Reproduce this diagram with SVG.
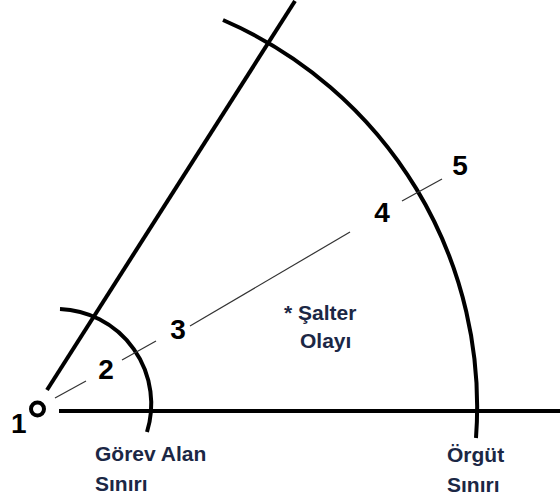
<svg xmlns="http://www.w3.org/2000/svg" width="560" height="502" viewBox="0 0 560 502">
<style>
.thick{fill:none;stroke:#000;stroke-width:4;stroke-linecap:butt}
.thin{fill:none;stroke:#333;stroke-width:1.2}
.num{font-family:"Liberation Sans",Arial,sans-serif;font-weight:bold;font-size:28px;fill:#000}
.lbl{font-family:"Liberation Sans",Arial,sans-serif;font-weight:bold;font-size:21px;fill:#1b2745}
</style>
<rect width="560" height="502" fill="#fff"/>
<g id="connectors">
<line class="thick" x1="59" y1="411" x2="560" y2="411"/>
<line class="thick" x1="47" y1="390" x2="295" y2="1"/>
<path class="thick" d="M60,309 A95,95 0 0 1 147,432"/>
<path class="thick" d="M223,20 A421.5,421.5 0 0 1 476,438"/>
<line class="thin" x1="55" y1="398" x2="86" y2="381"/>
<line class="thin" x1="122" y1="360" x2="156" y2="341"/>
<line class="thin" x1="190" y1="326" x2="350" y2="232"/>
<line class="thin" x1="402" y1="201" x2="442" y2="179"/>
</g>
<g id="origin">
<circle cx="37.5" cy="409" r="6.5" fill="none" stroke="#000" stroke-width="4"/>
<text class="num" x="11" y="433">1</text>
</g>
<g id="p2"><text class="num" x="106" y="379" text-anchor="middle">2</text></g>
<g id="p3"><text class="num" x="178" y="339" text-anchor="middle">3</text></g>
<g id="p4"><text class="num" x="382" y="222" text-anchor="middle">4</text></g>
<g id="p5"><text class="num" x="460" y="175" text-anchor="middle">5</text></g>
<g id="gorev">
<text class="lbl" x="95" y="461">Görev Alan</text>
<text class="lbl" x="95" y="491">Sınırı</text>
</g>
<g id="orgut">
<text class="lbl" x="447" y="462">Örgüt</text>
<text class="lbl" x="447" y="492">Sınırı</text>
</g>
<g id="salter">
<text class="lbl" x="284" y="320" font-size="19">* Şalter</text>
<text class="lbl" x="300" y="348" font-size="19">Olayı</text>
</g>
</svg>
